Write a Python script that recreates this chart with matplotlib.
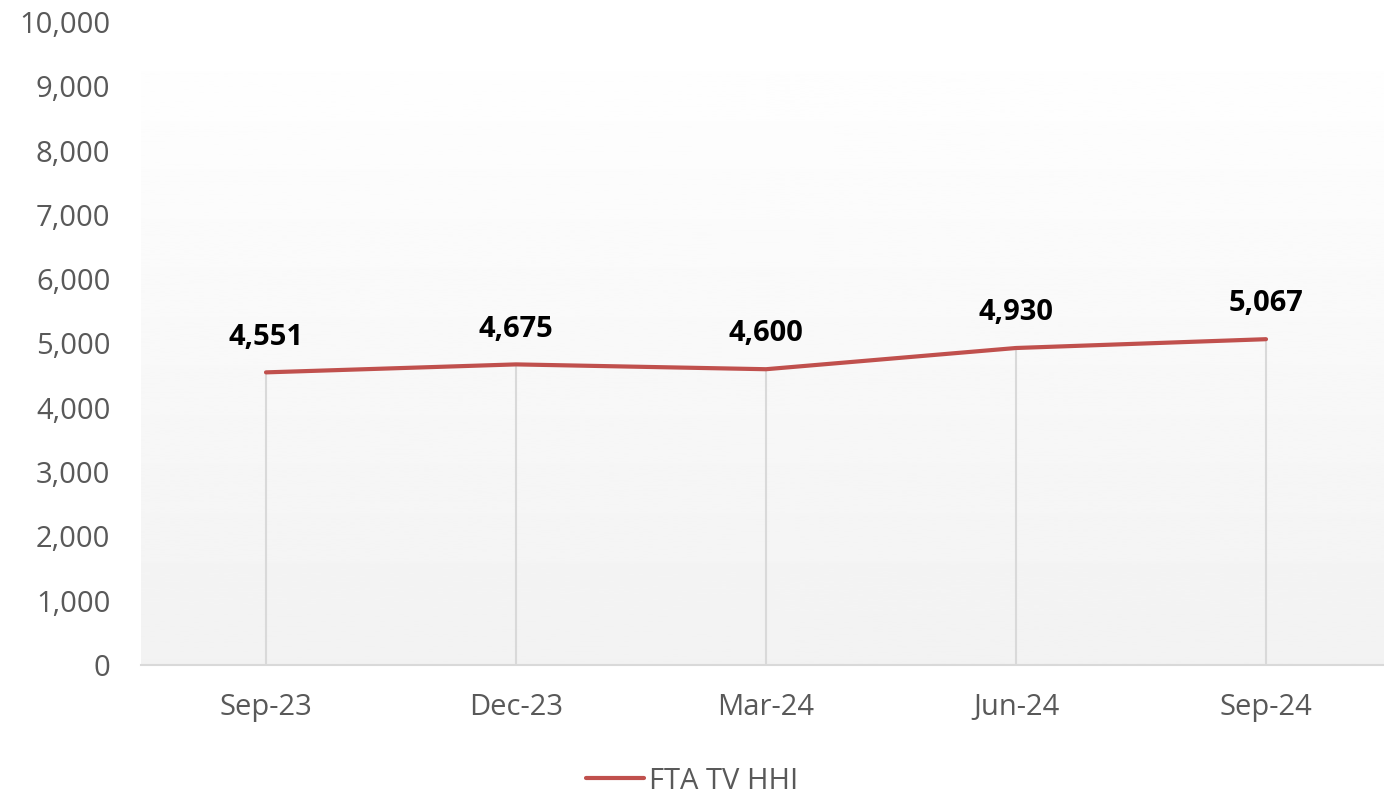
import numpy as np
import matplotlib.pyplot as plt

plt.rcParams['font.family'] = ['Open Sans', 'DejaVu Sans']

quarters = ['Sep-23', 'Dec-23', 'Mar-24', 'Jun-24', 'Sep-24']
hhi = [4551, 4675, 4600, 4930, 5067]
series_name = 'FTA TV HHI'
yticks = list(range(0, 10001, 1000))

line_color = '#c0504d'
grey_text = '#595959'
grid_grey = '#d9d9d9'

fig = plt.figure(figsize=(13.84, 7.93), dpi=100)
ax = fig.add_axes([141 / 1384, 128 / 793, 1250 / 1384, 643 / 793])

x = np.arange(len(quarters))
ax.set_xlim(-0.5, len(quarters) - 0.5)
ax.set_ylim(0, 10000)

# soft vertical gradient behind the plot
grad = np.linspace(1.0, 0.949, 256).reshape(-1, 1)
ax.imshow(grad, cmap='gray', vmin=0, vmax=1, aspect='auto',
          extent=(-0.5, len(quarters) - 0.5, 0, 10000), zorder=0)

# drop lines from each point to the axis
ax.vlines(x, 0, hhi, color=grid_grey, linewidth=1.5, zorder=1)

ax.plot(x, hhi, color=line_color, linewidth=3, solid_capstyle='round',
        label=series_name, zorder=3)

for xi, v in zip(x, hhi):
    ax.annotate(f'{v:,}', (xi, v), xytext=(0, 15), textcoords='offset points',
                ha='center', va='bottom', fontsize=21, fontweight='bold',
                color='black')

ax.set_xticks(x)
ax.set_xticklabels(quarters)
ax.set_yticks(yticks)
ax.set_yticklabels([f'{t:,}' for t in yticks])
ax.tick_params(axis='both', length=0, labelsize=21, colors=grey_text)
ax.tick_params(axis='x', pad=20)
ax.tick_params(axis='y', pad=22)

for side in ['top', 'right', 'left']:
    ax.spines[side].set_visible(False)
ax.spines['bottom'].set_color(grid_grey)
ax.spines['bottom'].set_linewidth(1.5)

leg = fig.legend(loc='center', bbox_to_anchor=(0.5, 0.015), frameon=False,
                 fontsize=21, handlelength=2.0, handletextpad=0.15)
for t in leg.get_texts():
    t.set_color(grey_text)

fig.savefig('out.png', dpi=100)
